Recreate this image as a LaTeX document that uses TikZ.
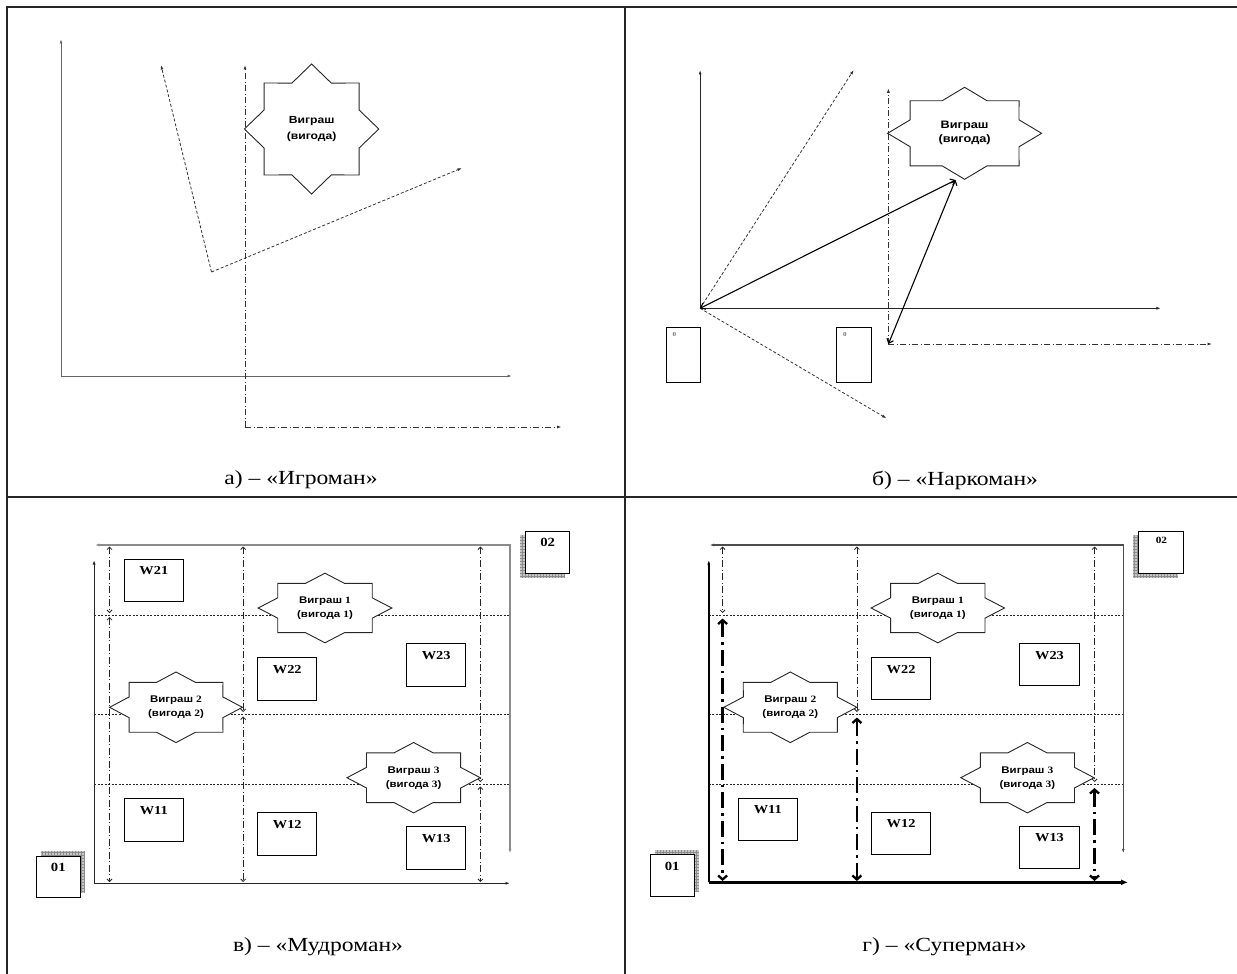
\documentclass[tikz,border=0pt]{standalone}
\usepackage{fontspec}
\setmainfont{Liberation Serif}[FakeStretch=1.18]
\newfontfamily\sansb{Liberation Sans}[FakeStretch=1.18]
\usetikzlibrary{arrows.meta}
\newcommand\sd[1]{{\rmfamily #1}}
\newcommand\wgstar[7]{% name, x, y, rx, ry, font, text
  \draw[starline, shift={(#2,#3)}, xscale=#4, yscale=#5] (0:1)
    \foreach \a in {0,45,...,315}{ -- (\a+22.5:0.765) -- (\a+45:1)} -- cycle;
  \node[startext, font=#6] (#1) at (#2,#3) {#7};
}
\newcommand\shadowbox[7]{% name, x1,y1,x2,y2, dx,dy
  \fill[black!22] (#2+#6,#3+#7) rectangle (#4+#6,#5+#7);
  \draw[black!45, line width=0.3pt, step=3pt] (#2+#6,#3+#7) grid (#4+#6,#5+#7);
  \node[draw, line width=1pt, fill=white, inner sep=0, anchor=north west,
        minimum width=#4-#2, minimum height=#5-#3] (#1) at (#2,#3) {};
}
\begin{document}
\begin{tikzpicture}[x=1pt,y=-1pt,
  frame/.style={line width=2pt, black!85},
  tipS/.style={-{Latex[length=4.5pt,width=3pt]}},
  axisA/.style={line width=1pt, black!60, tipS},
  axisB/.style={line width=1pt, black!85, tipS},
  dashedarr/.style={line width=0.8pt, black!80, dash pattern=on 3pt off 2pt, tipS},
  dashdotarr/.style={line width=0.8pt, black!80, dash pattern=on 6pt off 2.5pt on 1pt off 2.5pt, tipS},
  solidarr/.style={line width=1.1pt, black, {Straight Barb[length=4pt,width=7pt]}-{Straight Barb[length=4pt,width=7pt]}},
  starline/.style={line width=0.9pt, black!85, fill=white},
  startext/.style={align=center, inner sep=0},
  fA/.style={}, 
  captext/.style={font=\fontsize{20}{24}\selectfont, inner sep=0},
  grayline/.style={line width=1.3pt, black!45, {Latex[length=4.5pt,width=3pt]}-{Latex[length=4.5pt,width=3pt]}},
  dotline/.style={line width=0.8pt, black!85, dash pattern=on 2pt off 1.5pt},
  dim/.style={line width=0.8pt, black!85, dash pattern=on 7pt off 2.5pt on 1pt off 2.5pt,
    {Straight Barb[length=2.5pt,width=5pt]}-{Straight Barb[length=2.5pt,width=5pt]}},
  thickdim/.style={line width=2.3pt, black, dash pattern=on 16pt off 5pt on 2.5pt off 5pt,
    {Straight Barb[length=4pt,width=9pt]}-{Straight Barb[length=4pt,width=9pt]}},
  wbox/.style={draw, line width=1pt, fill=white, inner sep=0, minimum width=59.3pt, minimum height=42.5pt},
  wlab/.style={anchor=north, inner sep=0, yshift=-8pt, font=\bfseries\fontsize{12.2}{14}\selectfont},
  olab/.style={anchor=north, inner sep=0, yshift=-7.5pt, font=\bfseries\fontsize{12.5}{14}\selectfont},
  zlab/.style={font=\bfseries\fontsize{6}{7}\selectfont, text=black!55, inner sep=0},
  thickaxis/.style={line width=2.4pt, black, -{Latex[length=7pt,width=6pt]}}
]
\useasboundingbox (0,0) rectangle (1237,974);
\fill[white] (0,0) rectangle (1237,974);
% frame (top, left and the two dividers)
\draw[frame] (7,974) -- (7,7) -- (1237,7);
\draw[frame] (624.5,7) -- (624.5,974);
\draw[frame] (7,497) -- (1237,497);

% ---------------- panel a
\coordinate (aO) at (61,376); \coordinate (aY) at (61,39); \coordinate (aX) at (512,376);
\coordinate (aV) at (211.5,272); \coordinate (aV1) at (161,65); \coordinate (aV2) at (462,168);
\coordinate (aD) at (245,427); \coordinate (aDY) at (245,65); \coordinate (aDX) at (561.5,427);
\draw[axisA] (aO) -- (aY);
\draw[axisA] (aO) -- (aX);
\draw[dashedarr] (aV) -- (aV1);
\draw[dashedarr] (aV) -- (aV2);
\wgstar{starA}{311.6}{129}{67.2}{65}{\sansb\bfseries\fontsize{10.3}{16.5}\selectfont}{Виграш\\(вигода)}
\draw[dashdotarr] (aD) -- (aDY);
\draw[dashdotarr] (aD) -- (aDX);
\node[captext] (capA) at (301,480) {а) – «Игроман»};

% ---------------- panel b
\coordinate (bO) at (700.1,308.3); \coordinate (bY) at (700.1,70); \coordinate (bX) at (1160.9,308.3);
\coordinate (bU) at (853.7,70); \coordinate (bL) at (886.5,418.3);
\coordinate (bT) at (955.5,180);
\coordinate (bD) at (888.4,344); \coordinate (bDY) at (888.4,88.3); \coordinate (bDX) at (1212,344);
\draw[axisB] (bO) -- (bY);
\draw[axisB] (bO) -- (bX);
\draw[dashedarr] (bO) -- (bU);
\draw[dashedarr] (bO) -- (bL);
\wgstar{starB}{964.6}{133.3}{77}{46}{\sansb\bfseries\fontsize{10.8}{14}\selectfont}{Виграш\\(вигода)}
\draw[dashdotarr] (bD) -- (bDY);
\draw[dashdotarr] (bD) -- (bDX);
\draw[solidarr] (bO) -- (bT);
\draw[solidarr] (bD) -- (bT);
\node[draw, line width=1pt, inner sep=0, anchor=north west, minimum width=33.9pt, minimum height=55pt] (boxB1) at (666.2,327.3) {};
\node[draw, line width=1pt, inner sep=0, anchor=north west, minimum width=34.8pt, minimum height=55pt] (boxB2) at (836.3,327.3) {};
\node[zlab] (zB1) at (674.5,335) {0};
\node[zlab] (zB2) at (845,335) {0};
\node[captext] (capB) at (955,480) {б) – «Наркоман»};

% ---------------- panel c
\coordinate (cC) at (510,545); \coordinate (cCL) at (95,545); \coordinate (cCD) at (510,853.3);
\draw[grayline] (cCL) -- (cC) -- (cCD);
\coordinate (cO) at (94.1,883.3); \coordinate (cY) at (94.1,560); \coordinate (cX) at (510,883.3);
\draw[axisB] (cO) -- (cY);
\draw[axisB] (cO) -- (cX);
\foreach \yy/\nm in {615/1,714/2,784.3/3}{
  \coordinate (cH\nm l) at (94.1,\yy); \coordinate (cH\nm r) at (510,\yy);
  \draw[dotline] (cH\nm l) -- (cH\nm r);
}
% stars
\wgstar{starC1}{325}{608}{66.8}{34.8}{\sansb\bfseries\fontsize{9.7}{14}\selectfont}{Виграш \sd{1}\\(вигода \sd{1})}
\wgstar{starC2}{176}{707.3}{66.4}{35.3}{\sansb\bfseries\fontsize{9.7}{14}\selectfont}{Виграш \sd{2}\\(вигода \sd{2})}
\wgstar{starC3}{413.6}{777.7}{66.6}{35.2}{\sansb\bfseries\fontsize{9.7}{14}\selectfont}{Виграш \sd{3}\\(вигода \sd{3})}
% dimension lines
\draw[dim] (109.5,546.5) -- (109.5,613);
\draw[dim] (109.5,617) -- (109.5,882);
\draw[dim] (243.2,546.5) -- (243.2,712);
\draw[dim] (243.2,716.5) -- (243.2,882);
\draw[dim] (480.4,546.5) -- (480.4,782);
\draw[dim] (480.4,786.5) -- (480.4,882);
% boxes
\node[wbox, label={[wlab]north:W21}] (c21) at (153.85,580.35) {};
\node[wbox, label={[wlab]north:W22}] (c22) at (287.25,678.85) {};
\node[wbox, label={[wlab]north:W23}] (c23) at (436.15,664.85) {};
\node[wbox, label={[wlab]north:W11}] (c11) at (153.85,820) {};
\node[wbox, label={[wlab]north:W12}] (c12) at (287.25,834) {};
\node[wbox, label={[wlab]north:W13}] (c13) at (436.15,848.15) {};
% 01 / 02
\shadowbox{c01}{35.6}{855.7}{79.9}{897.3}{5}{-4.3}
\node[olab] (c01t) at (c01.north) {01};
\shadowbox{c02}{525}{530.7}{569.3}{573.3}{-5}{4.3}
\node[olab] (c02t) at (c02.north) {02};
\node[captext] (capC) at (318,946.7) {в) – «Мудроман»};

% ---------------- panel d
\coordinate (dC) at (1123.3,545); \coordinate (dCL) at (709.6,545); \coordinate (dCD) at (1123.3,853.3);
\draw[grayline, black!70] (dCL) -- (dC) -- (dCD);
\foreach \yy/\nm in {615/1,714/2,784.3/3}{
  \coordinate (dH\nm l) at (708.8,\yy); \coordinate (dH\nm r) at (1123.3,\yy);
  \draw[dotline] (dH\nm l) -- (dH\nm r);
}
\wgstar{starD1}{937.8}{608}{66.7}{34.8}{\sansb\bfseries\fontsize{9.7}{14}\selectfont}{Виграш \sd{1}\\(вигода \sd{1})}
\wgstar{starD2}{790.3}{707.3}{66.5}{35.3}{\sansb\bfseries\fontsize{9.7}{14}\selectfont}{Виграш \sd{2}\\(вигода \sd{2})}
\wgstar{starD3}{1027.4}{777.7}{66.6}{35.2}{\sansb\bfseries\fontsize{9.7}{14}\selectfont}{Виграш \sd{3}\\(вигода \sd{3})}
\draw[dim] (722.6,546.5) -- (722.6,613);
\draw[dim] (856.9,546.5) -- (856.9,712);
\draw[dim] (1094.5,546.5) -- (1094.5,782);
\draw[thickdim] (722.6,618.5) -- (722.6,881);
\draw[thickdim] (856.9,717.5) -- (856.9,881);
\draw[thickdim] (1094.5,788) -- (1094.5,881);
\coordinate (dO) at (708.8,882.3); \coordinate (dY) at (708.8,560); \coordinate (dX) at (1128,882.3);
\draw[line width=2.4pt, black, tipS] (dO) -- (dY);
\draw[thickaxis] (dO) -- (dX);
\node[wbox, label={[wlab]north:W22}] (d22) at (901.1,678.5) {};
\node[wbox, label={[wlab]north:W23}] (d23) at (1049.5,664.7) {};
\node[wbox, label={[wlab]north:W11}] (d11) at (767.8,819.3) {};
\node[wbox, label={[wlab]north:W12}] (d12) at (901.1,833.3) {};
\node[wbox, label={[wlab]north:W13}] (d13) at (1049.5,847.3) {};
\shadowbox{d01}{649.6}{854.3}{693.8}{896}{5}{-4.3}
\node[olab] (d01t) at (d01.north) {01};
\shadowbox{d02}{1138.3}{530.7}{1183.4}{573.3}{-5}{4.3}
\node[olab, yshift=1pt, font=\bfseries\fontsize{9.5}{11}\selectfont] (d02t) at (d02.north) {02};
\node[captext] (capD) at (944.5,946.7) {г) – «Суперман»};
\end{tikzpicture}
\end{document}
